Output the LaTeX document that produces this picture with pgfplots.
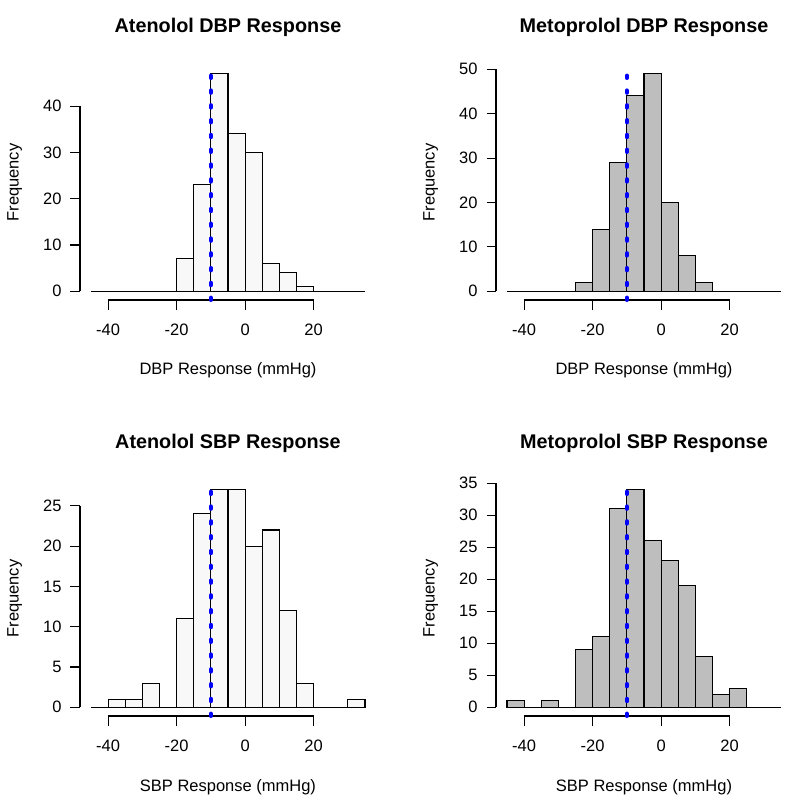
\documentclass[border=0pt]{standalone}
\usepackage{pgfplots}
\pgfplotsset{compat=1.18}
\usepackage{fontspec}
\setmainfont{Liberation Sans}
\definecolor{atefill}{HTML}{F8F8F8}
\definecolor{metfill}{HTML}{BEBEBE}
\definecolor{rblue}{HTML}{0000FF}
\pgfplotsset{
  rpanel/.style={
    scale only axis, width=148pt, height=117.5pt,
    anchor=south west, clip=false,
    xmin=-48.2, xmax=38.2,
    axis line style={draw=none},
    tick align=outside, tick pos=left,
    major tick length=4.75pt,
    tick style={black, line width=0.55pt},
    minor tick num=0,
    xtick={-40,-20,0,20},
    /pgf/number format/assume math mode=true,
    ticklabel style={font=\fontsize{8.25}{10}\selectfont},
    xticklabel style={anchor=base, yshift=-13pt},
    yticklabel style={anchor=east, xshift=-1pt},
    every axis title/.style={at={(axis description cs:0.5,1.1404)}, anchor=base, font=\bfseries\fontsize{9.9}{12}\selectfont},
    xlabel style={at={(axis description cs:0.5,-0.3191)}, anchor=base, font=\fontsize{8.25}{10}\selectfont},
    ylabel style={at={(axis description cs:-0.2074,0.5)}, anchor=base, font=\fontsize{8.25}{10}\selectfont},
    ylabel={Frequency},
  },
  bars/.style={ybar, bar width=5, bar shift=0pt, draw=black, line width=0.55pt},
  rline/.style={black, line width=0.55pt, mark=none},
  vline/.style={rblue, line width=2pt, line cap=round, dash pattern=on 1.2pt off 6.2pt, mark=none},
}
\begin{document}
\begin{tikzpicture}
\useasboundingbox (0,0) rectangle (400pt,-404pt);
% ---------- Atenolol DBP ----------
\begin{axis}[rpanel, at={(40pt,-150pt)}, ymin=-1.88, ymax=48.88,
  ytick={0,10,20,30,40}, title={Atenolol DBP Response}, xlabel={DBP Response (mmHg)}]
\addplot[bars, fill=atefill] coordinates {
(-17.5,7) (-12.5,23) (-7.5,47) (-2.5,34) (2.5,30) (7.5,6) (12.5,4) (17.5,1)};
\addplot[rline] coordinates {(-45,0) (35,0)};
\addplot[rline] coordinates {(-40,-1.88) (20,-1.88)};
\addplot[rline] coordinates {(-48.2,0) (-48.2,40)};
\addplot[vline] coordinates {(-10,-1.88) (-10,47)};
\end{axis}
% ---------- Metoprolol DBP ----------
\begin{axis}[rpanel, at={(248pt,-150pt)}, ymin=-1.96, ymax=50.96,
  ytick={0,10,20,30,40,50}, title={Metoprolol DBP Response}, xlabel={DBP Response (mmHg)}]
\addplot[bars, fill=metfill] coordinates {
(-22.5,2) (-17.5,14) (-12.5,29) (-7.5,44) (-2.5,49) (2.5,20) (7.5,8) (12.5,2)};
\addplot[rline] coordinates {(-45,0) (35,0)};
\addplot[rline] coordinates {(-40,-1.96) (20,-1.96)};
\addplot[rline] coordinates {(-48.2,0) (-48.2,50)};
\addplot[vline] coordinates {(-10,-1.96) (-10,49)};
\end{axis}
% ---------- Atenolol SBP ----------
\begin{axis}[rpanel, at={(40pt,-358pt)}, ymin=-1.08, ymax=28.08,
  ytick={0,5,10,15,20,25}, title={Atenolol SBP Response}, xlabel={SBP Response (mmHg)}]
\addplot[bars, fill=atefill] coordinates {
(-37.5,1) (-32.5,1) (-27.5,3) (-22.5,0) (-17.5,11) (-12.5,24) (-7.5,27) (-2.5,27)
(2.5,20) (7.5,22) (12.5,12) (17.5,3) (22.5,0) (27.5,0) (32.5,1)};
\addplot[rline] coordinates {(-45,0) (35,0)};
\addplot[rline] coordinates {(-40,-1.08) (20,-1.08)};
\addplot[rline] coordinates {(-48.2,0) (-48.2,25)};
\addplot[vline] coordinates {(-10,-1.08) (-10,27)};
\end{axis}
% ---------- Metoprolol SBP ----------
\begin{axis}[rpanel, at={(248pt,-358pt)}, ymin=-1.36, ymax=35.36,
  ytick={0,5,10,15,20,25,30,35}, title={Metoprolol SBP Response}, xlabel={SBP Response (mmHg)}]
\addplot[bars, fill=metfill] coordinates {
(-42.5,1) (-37.5,0) (-32.5,1) (-27.5,0) (-22.5,9) (-17.5,11) (-12.5,31) (-7.5,34)
(-2.5,26) (2.5,23) (7.5,19) (12.5,8) (17.5,2) (22.5,3)};
\addplot[rline] coordinates {(-45,0) (35,0)};
\addplot[rline] coordinates {(-40,-1.36) (20,-1.36)};
\addplot[rline] coordinates {(-48.2,0) (-48.2,35)};
\addplot[vline] coordinates {(-10,-1.36) (-10,34)};
\end{axis}
\end{tikzpicture}
\end{document}
